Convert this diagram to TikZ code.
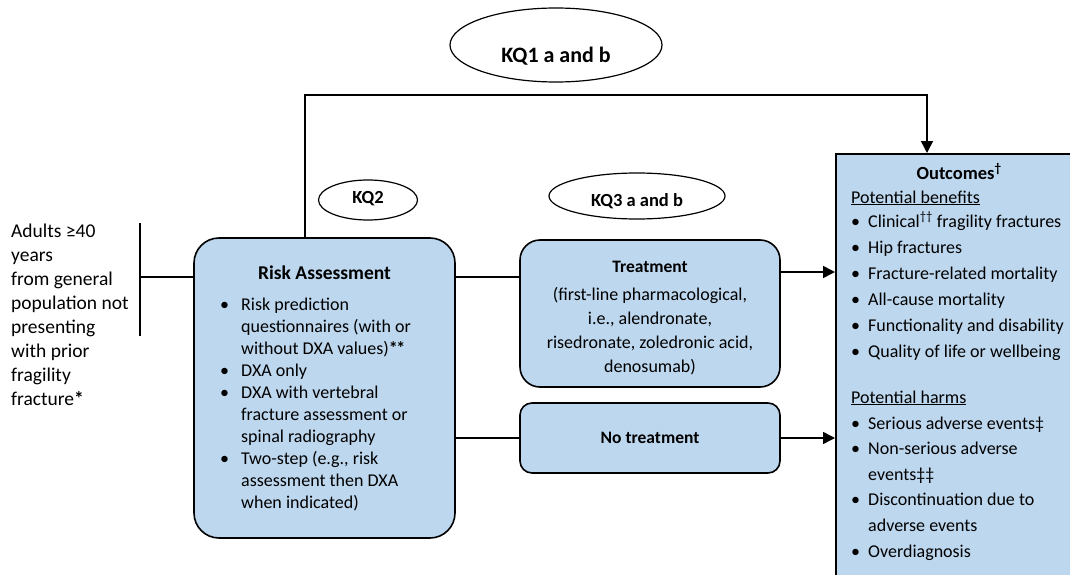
\documentclass[tikz,border=0pt]{standalone}
\usepackage{fontspec}
\setmainfont{Carlito}
\usetikzlibrary{arrows.meta,shapes.geometric}
\definecolor{boxblue}{RGB}{189,215,238}
\newcommand{\bitem}[2][24pt]{\par\noindent\hangindent=#1\hangafter=1\makebox[#1][l]{\hspace{3pt}\textbullet}#2}
\tikzset{
  box/.style={draw=black, line width=1.6pt, fill=boxblue, inner sep=0pt},
  kq/.style={draw=black, line width=1.2pt, ellipse, inner sep=0pt},
  kqtext/.style={font=\bfseries\fontsize{18.5}{22}\selectfont, inner sep=0pt, anchor=base},
  conn/.style={line width=1.5pt},
  arr/.style={conn, -{Triangle[length=12pt,width=12pt]}},
  txt/.style={inner sep=0pt, anchor=base west},
  ctxt/.style={inner sep=0pt, anchor=base},
}
\begin{document}
\begin{tikzpicture}[x=1pt,y=-1pt]
\useasboundingbox (0,0) rectangle (1070,575);
\clip (0,0) rectangle (1070,575);

% boxes
\node[box, rounded corners=25pt, minimum width=261pt, minimum height=300pt] (risk) at (324.5,388) {};
\node[box, rounded corners=20pt, minimum width=260pt, minimum height=147pt] (treat) at (650,313.5) {};
\node[box, rounded corners=12pt, minimum width=260pt, minimum height=70pt] (notreat) at (650,438) {};
\node[box, anchor=north west, minimum width=248pt, minimum height=440pt] (outc) at (835,153) {};

% ellipses
\node[kq, minimum width=212pt, minimum height=74pt] (kq1) at (556,45) {};
\node[kqtext, font=\bfseries\fontsize{22}{26}\selectfont] (kq1t) at (556,63) {KQ1 a and b};
\node[kq, minimum width=99pt, minimum height=40pt] (kq2) at (368,200) {};
\node[kqtext] (kq2t) at (368,203) {KQ2};
\node[kq, minimum width=176pt, minimum height=46pt] (kq3) at (637,196) {};
\node[kqtext] (kq3t) at (637,206) {KQ3 a and b};

% population text
\node[txt, font=\fontsize{19.5}{24}\selectfont] (pop) at (11,237) {\parbox[t]{140pt}{\raggedright Adults ≥40\\ years\\ from general\\ population not\\ presenting\\ with prior\\ fragility\\ fracture\textbf{*}}};

% risk assessment text
\node[ctxt, font=\bfseries\fontsize{19.5}{24}\selectfont] (riskt) at (324.5,279) {Risk Assessment};
\node[txt, font=\fontsize{18}{22}\selectfont] (riskl) at (217,310) {\parbox[t]{235pt}{\raggedright
\bitem{Risk prediction\newline questionnaires (with or\newline without DXA values)\textbf{*\kern-1.5pt*}}
\bitem{DXA only}
\bitem{DXA with vertebral\newline fracture assessment or\newline spinal radiography}
\bitem{Two-step (e.g., risk\newline assessment then DXA\newline when indicated)}}};

% treatment text
\node[ctxt, font=\bfseries\fontsize{17.5}{22}\selectfont] (treatt) at (650,272) {Treatment};
\node[ctxt, font=\fontsize{18}{24}\selectfont] (treatl) at (650,300) {\parbox[t]{250pt}{\centering (first-line pharmacological,\\ i.e., alendronate,\\ risedronate, zoledronic acid,\\ denosumab)}};
\node[ctxt, font=\bfseries\fontsize{17.5}{22}\selectfont] (notreatt) at (650,443) {No treatment};

% outcomes text
\node[ctxt, font=\bfseries\fontsize{18.5}{22}\selectfont] (outct) at (959,179) {Outcomes\textsuperscript{†}};
\node[txt, font=\fontsize{18}{22}\selectfont] (benh) at (851,203) {\underline{Potential benefits}};
\node[txt, font=\fontsize{18}{26}\selectfont] (benl) at (848,227) {\parbox[t]{240pt}{\raggedright
\bitem[20pt]{Clinical\textsuperscript{††} fragility fractures}
\bitem[20pt]{Hip fractures}
\bitem[20pt]{Fracture-related mortality}
\bitem[20pt]{All-cause mortality}
\bitem[20pt]{Functionality and disability}
\bitem[20pt]{Quality of life or wellbeing}}};
\node[txt, font=\fontsize{18}{22}\selectfont] (harmh) at (851,403) {\underline{Potential harms}};
\node[txt, font=\fontsize{18}{25.6}\selectfont] (harml) at (848,429) {\parbox[t]{240pt}{\raggedright
\bitem[20pt]{Serious adverse events‡}
\bitem[20pt]{Non-serious adverse\newline events‡‡}
\bitem[20pt]{Discontinuation due to\newline adverse events}
\bitem[20pt]{Overdiagnosis}}};

% connectors
\coordinate (brtop) at (140,223);
\coordinate (brbot) at (140,336);
\coordinate (brmid) at (140,277);
\coordinate (loopL) at (305,95);
\coordinate (loopR) at (927,95);
\coordinate (rowA) at (0,277);
\coordinate (rowT) at (0,272);

\draw[conn] (brtop) -- (brbot);
\draw[conn] (brmid) -- (brmid -| risk.west);
\draw[arr] (loopL |- risk.north) -- (loopL) -- (loopR) -- (loopR |- outc.north);
\draw[conn] (rowA -| risk.east) -- (rowA -| treat.west);
\draw[conn] (notreat.west -| risk.east) -- (notreat.west);
\draw[arr] (rowT -| treat.east) -- (rowT -| outc.west);
\draw[arr] (notreat.east) -- (notreat.east -| outc.west);
\end{tikzpicture}
\end{document}
